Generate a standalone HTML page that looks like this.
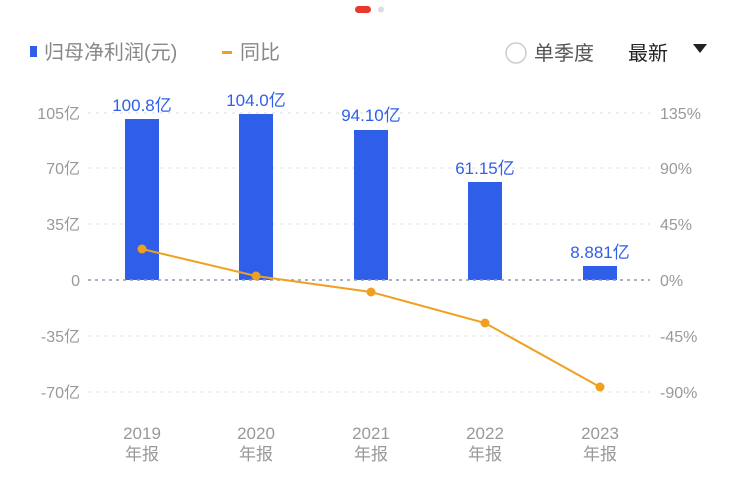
<!DOCTYPE html>
<html><head><meta charset="utf-8"><style>
body{margin:0;background:#fff;}
svg text{font-family:"Liberation Sans","Noto Sans CJK SC",sans-serif;}
</style></head><body>
<svg width="740" height="482" viewBox="0 0 740 482" xmlns="http://www.w3.org/2000/svg">
<rect x="355" y="6" width="16" height="7" rx="3.5" fill="#e8382f"/>
<circle cx="381" cy="9.5" r="3" fill="#d8dce3"/>
<rect x="30" y="46" width="7" height="11" fill="#2f5fe8"/>
<text x="44" y="59" font-size="20" fill="#888">归母净利润(元)</text>
<rect x="222" y="51" width="10" height="3" fill="#f0a020"/>
<text x="240" y="59" font-size="20" fill="#888">同比</text>
<circle cx="516" cy="53" r="10" fill="none" stroke="#ccc" stroke-width="1.5"/>
<text x="534" y="60" font-size="20" fill="#555">单季度</text>
<text x="628" y="60" font-size="20" fill="#222">最新</text>
<polygon points="693,44 707,44 700,53" fill="#222"/>
<g stroke="#ddd" stroke-dasharray="3,5" stroke-width="1">
<line x1="88" y1="113" x2="650" y2="113"/><line x1="88" y1="168" x2="650" y2="168"/>
<line x1="88" y1="224" x2="650" y2="224"/><line x1="88" y1="336" x2="650" y2="336"/>
<line x1="88" y1="392" x2="650" y2="392"/>
</g>
<g fill="#999" font-size="16" text-anchor="end">
<text x="80" y="119">105亿</text><text x="80" y="174">70亿</text><text x="80" y="230">35亿</text>
<text x="80" y="286">0</text><text x="80" y="342">-35亿</text><text x="80" y="398">-70亿</text>
</g>
<g fill="#999" font-size="16">
<text x="660" y="119">135%</text><text x="660" y="174">90%</text><text x="660" y="230">45%</text>
<text x="660" y="286">0%</text><text x="660" y="342">-45%</text><text x="660" y="398">-90%</text>
</g>
<g fill="#2f5fe8">
<rect x="125" y="119" width="34" height="161"/>
<rect x="239" y="114" width="34" height="166"/>
<rect x="354" y="130" width="34" height="150"/>
<rect x="468" y="182" width="34" height="98"/>
<rect x="583" y="266" width="34" height="14"/>
</g>
<line x1="88" y1="280" x2="650" y2="280" stroke="#8a9ab0" stroke-dasharray="3,4" stroke-width="1.5"/>
<g fill="#2f5fe8" font-size="17" text-anchor="middle">
<text x="142" y="111">100.8亿</text><text x="256" y="106">104.0亿</text>
<text x="371" y="121">94.10亿</text><text x="485" y="174">61.15亿</text><text x="600" y="258">8.881亿</text>
</g>
<polyline points="142,249 256,276 371,292 485,323 600,387" fill="none" stroke="#f0a020" stroke-width="2"/>
<g fill="#f0a020">
<circle cx="142" cy="249" r="4.5"/><circle cx="256" cy="276" r="4.5"/><circle cx="371" cy="292" r="4.5"/>
<circle cx="485" cy="323" r="4.5"/><circle cx="600" cy="387" r="4.5"/>
</g>
<g fill="#999" font-size="17" text-anchor="middle">
<text x="142" y="439">2019</text><text x="142" y="460">年报</text>
<text x="256" y="439">2020</text><text x="256" y="460">年报</text>
<text x="371" y="439">2021</text><text x="371" y="460">年报</text>
<text x="485" y="439">2022</text><text x="485" y="460">年报</text>
<text x="600" y="439">2023</text><text x="600" y="460">年报</text>
</g>
</svg>
</body></html>
